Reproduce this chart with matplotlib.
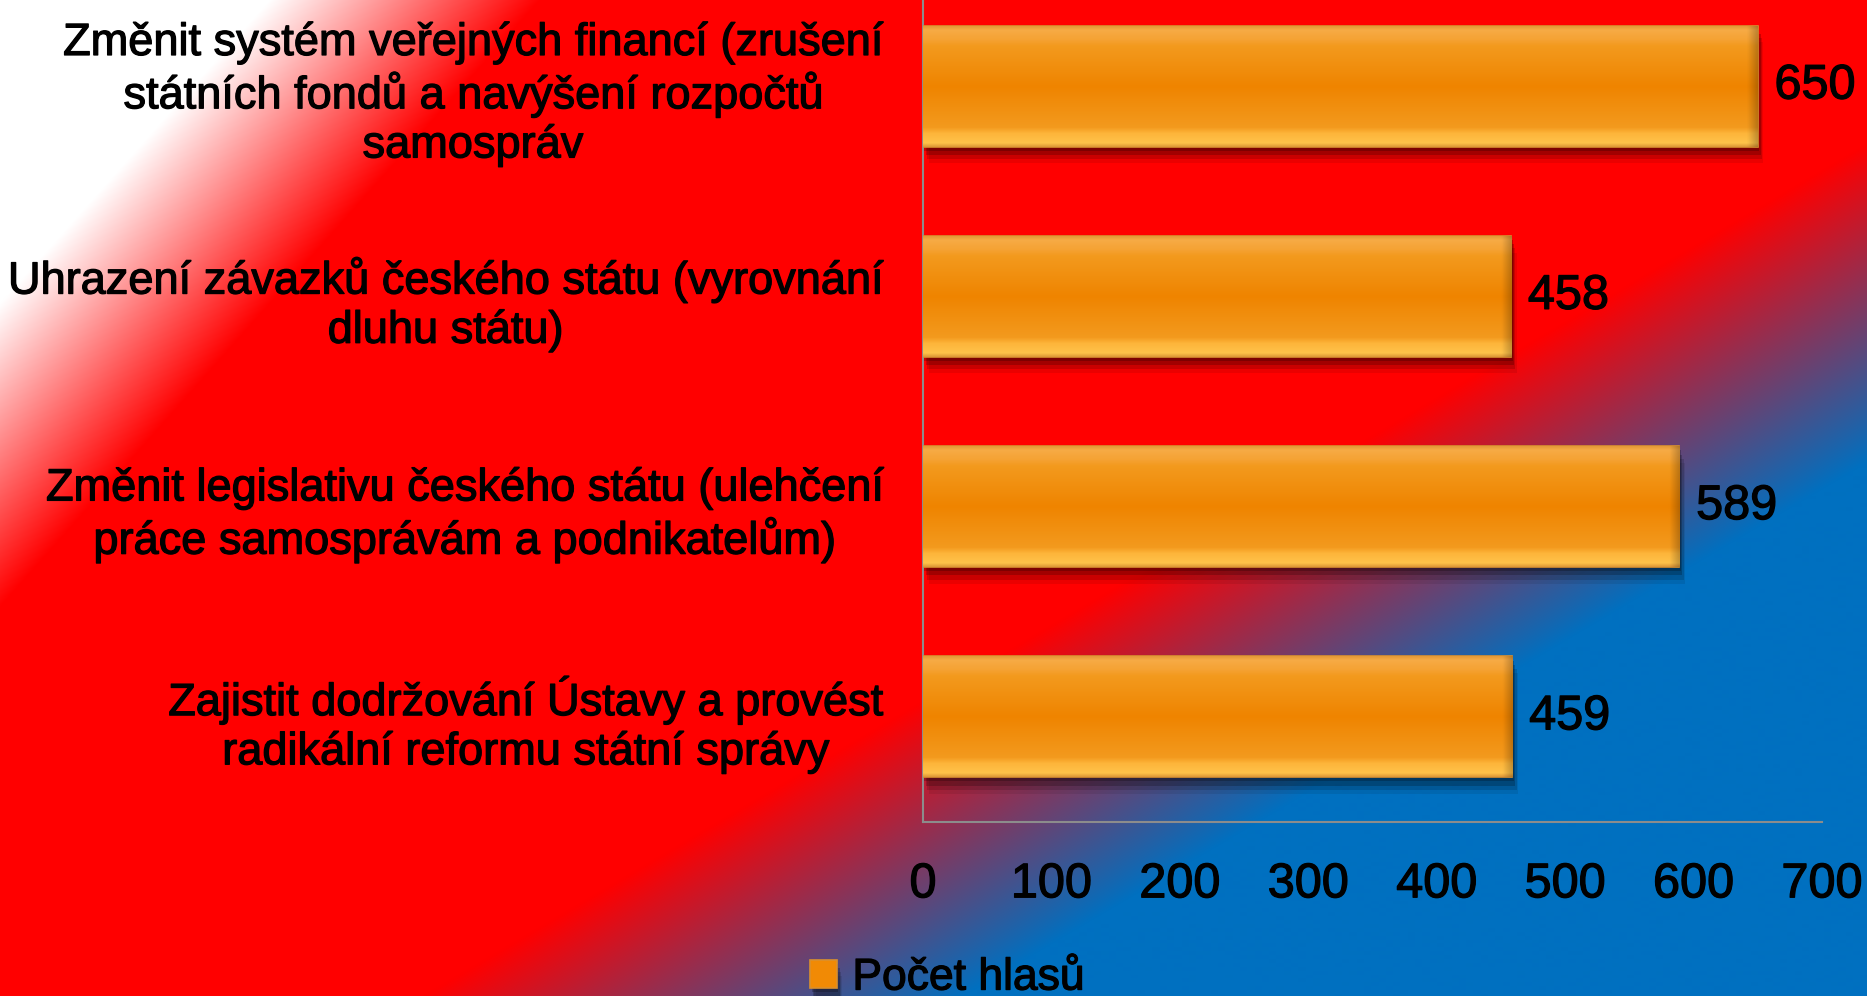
import numpy as np
import matplotlib
matplotlib.use("Agg")
import matplotlib.pyplot as plt
import matplotlib.patheffects as pe
from matplotlib.colors import to_rgb

plt.rcParams["font.family"] = ["Liberation Sans", "DejaVu Sans"]

categories = [
    "Změnit systém veřejných financí (zrušení\nstátních fondů a navýšení rozpočtů\nsamospráv",
    "Uhrazení závazků českého státu (vyrovnání\ndluhu státu)",
    "Změnit legislativu českého státu (ulehčení\npráce samosprávám a podnikatelům)",
    "Zajistit dodržování Ústavy a provést\nradikální reformu státní správy",
]
votes = [650, 458, 589, 459]
x_ticks = [0, 100, 200, 300, 400, 500, 600, 700]
series_name = "Počet hlasů"

W, H = 1867, 996
fig = plt.figure(figsize=(W / 100, H / 100), dpi=100)

# diagonal background: white -> red -> blue
yy, xx = np.mgrid[0:H, 0:W].astype(float)
s1 = np.clip((xx + 0.89 * yy - 270) / 270, 0, 1)[..., None]
s2 = np.clip((xx + 1.695 * yy - 2110) / 540, 0, 1)[..., None]
white = np.array([1.0, 1.0, 1.0])
red = np.array(to_rgb("#FF0000"))
blue = np.array(to_rgb("#0070C0"))
bg = white * (1 - s1) + red * s1
bg = bg * (1 - s2) + blue * s2
ax_bg = fig.add_axes([0, 0, 1, 1], zorder=-1)
ax_bg.imshow(bg, extent=[0, 1, 0, 1], aspect="auto", interpolation="bilinear")
ax_bg.axis("off")

ax = fig.add_axes([923 / W, (H - 822) / H, (1822 - 923) / W, (822 + 19) / H])
ax.patch.set_alpha(0)

pos = np.arange(len(categories))
shadow = [pe.SimplePatchShadow(offset=(1, -3), shadow_rgbFace="black", alpha=0.22),
          pe.SimplePatchShadow(offset=(2, -6), shadow_rgbFace="black", alpha=0.2),
          pe.SimplePatchShadow(offset=(3, -9), shadow_rgbFace="black", alpha=0.14),
          pe.SimplePatchShadow(offset=(4, -12), shadow_rgbFace="black", alpha=0.08),
          pe.Normal()]
bars = ax.barh(pos, votes, height=0.575, color="#F18A05", edgecolor="#D9902E",
               linewidth=1.2, zorder=3)
for b in bars:
    b.set_path_effects(shadow)

# bevelled orange fill
stops = [(0.00, "#E49A38"), (0.03, "#F7AB45"), (0.11, "#F5A233"), (0.16, "#F39A1E"),
         (0.50, "#EF8400"), (0.84, "#F39A1E"), (0.89, "#FDB53A"), (0.97, "#FFC24A"),
         (1.00, "#E09A38")]
fy = np.linspace(0, 1, 120)
prof = np.stack([np.interp(fy, [s[0] for s in stops], [to_rgb(s[1])[k] for s in stops])
                 for k in range(3)], axis=-1)
for b in bars:
    x0, y0, w, h = b.get_x(), b.get_y(), b.get_width(), b.get_height()
    xs = np.linspace(x0, x0 + w, 400)
    dark = np.clip((xs - (x0 + w - 7.5)) / 7.5, 0, 1)
    fac = 1 - 0.22 * dark
    img = prof[:, None, :] * fac[None, :, None]
    im = ax.imshow(img, extent=[x0, x0 + w, y0 + h, y0], aspect="auto",
                   interpolation="bilinear", zorder=4)
    im.set_clip_path(b)

heavy = [pe.withStroke(linewidth=0.9, foreground="black")]

vals = ax.bar_label(bars, labels=[str(v) for v in votes], padding=12, fontsize=35, zorder=5)
for t in vals:
    t.set_path_effects(heavy)

ax.set_xlim(0, 700)
ax.set_ylim(len(categories) - 0.5, -0.5)
ax.set_xticks(x_ticks)
ax.set_xticklabels([str(t) for t in x_ticks])
ax.set_yticks(pos)
ax.set_yticklabels(categories)
ax.tick_params(axis="x", length=0, pad=29, labelsize=35)
ax.tick_params(axis="y", length=0, pad=29, labelsize=32.5)
for lab in ax.get_yticklabels():
    lab.set_multialignment("center")
    lab.set_path_effects(heavy)
for lab in ax.get_xticklabels():
    lab.set_path_effects(heavy)
for s in ["top", "right"]:
    ax.spines[s].set_visible(False)
for s in ["left", "bottom"]:
    ax.spines[s].set_color("#8C8C8C")
    ax.spines[s].set_linewidth(1.5)

leg = fig.legend([bars], [series_name], loc="center", bbox_to_anchor=(0.5075, 0.018),
                 frameon=False, fontsize=32, handlelength=0.6, handleheight=0.6,
                 handletextpad=0.35, borderpad=0, borderaxespad=0)
for t in leg.get_texts():
    t.set_path_effects(heavy)

fig.savefig("out.png", dpi=100)
